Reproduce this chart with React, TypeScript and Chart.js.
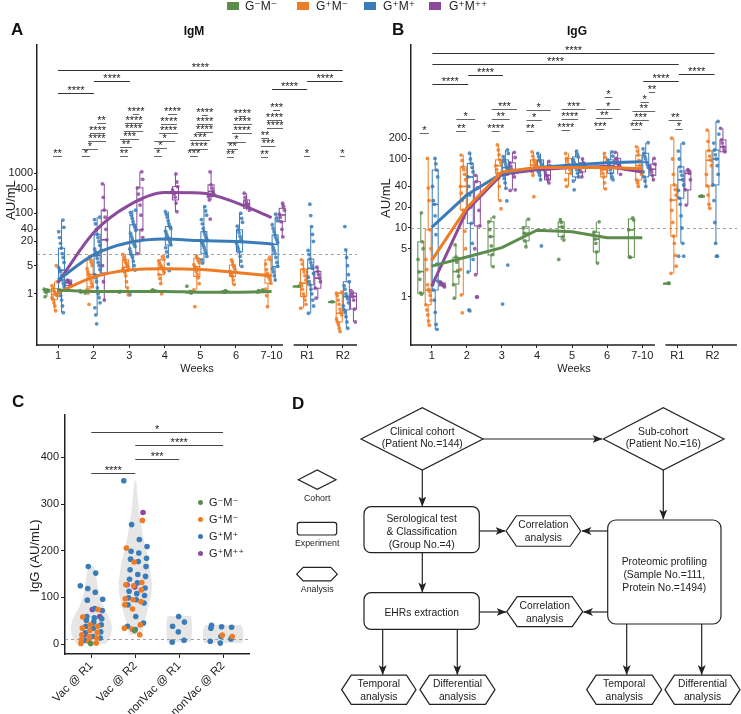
import React, { useEffect, useRef } from 'react';
import { Chart, registerables } from 'chart.js';
Chart.register(...registerables);

const FONT = "'Liberation Sans', Arial, 'DejaVu Sans', sans-serif";
Chart.defaults.font.family = FONT;
Chart.defaults.color = '#222';

// ---------- shared categories ----------
const groupLabels = ['G⁻M⁻', 'G⁺M⁻', 'G⁺M⁺', 'G⁺M⁺⁺'];
const groupColors = ['#5C8D4C', '#EF7B25', '#3A7CB7', '#8B4A9C'];
const timeLabels = ['1', '2', '3', '4', '5', '6', '7-10', 'R1', 'R2'];
const lineWeeks = [1, 2, 3, 4, 5, 6, 7];

// ---------- Panel A: IgM ----------
const igmTicks = [1, 5, 20, 40, 100, 400, 1000];
const igmLineGreen = [1.25, 1.15, 1.15, 1.15, 1.1, 1.1, 1.15];
const igmLineOrange = [1.08, 2.6, 3.9, 4.2, 4.0, 3.4, 2.8];
const igmLineBlue = [2.2, 9.3, 18.8, 23, 21, 20, 17.4];
const igmLinePurple = [1.9, 33, 160, 327, 320, 185, 78];

// box stats per group: [lower whisker, q1, median, q3, upper whisker]
const igmBoxGreen = [[0.85, 1.1, 1.2, 1.3, 1.3], [1.05, 1.08, 1.12, 1.2, 1.2], [1.1, 1.1, 1.12, 1.15, 1.15], [1.15, 1.15, 1.2, 1.25, 1.25], [1.0, 1.05, 1.1, 1.15, 1.15], [1.1, 1.1, 1.15, 1.2, 1.2], [1.1, 1.15, 1.18, 1.2, 1.25], [1.55, 1.55, 1.55, 1.55, 1.55], [0.64, 0.64, 0.64, 0.64, 0.64]];
const igmBoxOrange = [[0.38, 0.72, 0.95, 1.35, 2.0], [1.05, 1.5, 3.0, 7.0, 9.3], [1.4, 3.6, 4.6, 7.0, 9.8], [1.8, 3.0, 4.5, 7.0, 9.0], [1.26, 2.7, 4.7, 7.7, 9.0], [1.7, 2.7, 3.5, 5.2, 7.0], [0.48, 1.84, 2.7, 7.0, 8.2], [0.44, 0.86, 1.84, 4.1, 7.0], [0.116, 0.2, 0.33, 1.04, 1.1]];
const igmBoxBlue = [[0.34, 1.26, 3.9, 13.6, 68], [0.3, 3.0, 9.0, 30, 80], [3.9, 9.3, 20, 52, 120], [8.4, 16.4, 24, 47, 110], [5.8, 10.2, 20, 35, 147], [4.8, 11, 20, 39, 100], [2.2, 4.8, 17, 29, 77], [0.33, 1.67, 4.3, 7.3, 47], [0.14, 0.4, 0.86, 2.0, 12.3]];
const igmBoxPurple = [[1.6, 1.6, 1.9, 2.2, 2.2], [0.7, 3.3, 22, 120, 540], [10, 39, 215, 430, 1070], [110, 215, 330, 460, 950], [215, 260, 350, 510, 1070], [120, 133, 170, 215, 315], [26, 62, 91, 133, 178], [0.78, 1.38, 2.45, 3.6, 4.6], [0.2, 0.42, 0.86, 1.04, 1.2]];

const igmPtsGreen = [[1.2, 1.25, 1.1, 0.85, 1.3], [1.1, 1.2, 1.05], [1.15, 1.1], [1.2, 1.25, 1.15], [1.55, 1.1, 1.05, 1.15], [1.15, 1.2, 1.1], [1.15, 1.2, 1.1, 1.25, 1.2], [1.55], [0.64]];
const igmPtsOrange = [
  [0.38, 0.5, 0.6, 0.72, 0.8, 0.9, 0.95, 1.0, 1.1, 1.2, 1.35, 1.6, 2.0, 5.0],
  [0.55, 1.05, 1.3, 1.5, 1.8, 2.2, 2.6, 3.0, 3.5, 4.2, 5.0, 6.0, 7.0, 8.5],
  [0.95, 1.4, 2.0, 2.8, 3.4, 3.8, 4.2, 4.6, 5.0, 5.6, 6.2, 7.0, 8.0, 9.5],
  [1.0, 1.8, 2.4, 3.0, 3.4, 3.9, 4.3, 4.7, 5.2, 5.8, 6.5, 7.2, 8.5],
  [0.48, 1.26, 1.8, 2.5, 3.0, 3.6, 4.2, 4.7, 5.3, 6.0, 6.8, 7.7, 8.8],
  [1.7, 2.2, 2.7, 3.0, 3.3, 3.6, 4.0, 4.6, 5.2, 6.2, 7.0],
  [0.48, 0.9, 1.3, 1.84, 2.2, 2.5, 2.8, 3.2, 4.0, 5.5, 7.0, 8.2],
  [0.44, 0.55, 0.7, 0.86, 1.0, 1.3, 1.6, 1.84, 2.2, 2.8, 3.5, 4.1, 5.5, 7.0],
  [0.116, 0.14, 0.17, 0.2, 0.24, 0.3, 0.35, 0.42, 0.55, 0.7, 0.9, 1.04, 1.1],
];
const igmPtsBlue = [
  [0.34, 0.5, 0.7, 0.9, 1.1, 1.26, 1.5, 1.8, 2.2, 2.8, 3.5, 3.9, 4.5, 6, 8, 10, 13.6, 18, 25, 35, 45, 68],
  [0.18, 0.3, 0.45, 0.6, 0.8, 1.0, 1.4, 2.0, 2.5, 3.0, 4.0, 5.0, 6.0, 7.5, 9.0, 11, 13, 16, 20, 25, 30, 40, 55, 70, 80],
  [0.95, 3.9, 5, 6.5, 8, 9.3, 11, 13, 15, 17, 20, 23, 27, 32, 38, 45, 52, 62, 75, 90, 105, 120],
  [3.8, 5.5, 8.4, 11, 14, 16.4, 19, 22, 24, 27, 31, 36, 42, 47, 55, 65, 80, 95, 110],
  [5.8, 7, 8.5, 10.2, 12, 14, 16, 18, 20, 23, 26, 30, 35, 42, 55, 70, 90, 115, 147],
  [4.8, 6.5, 8.5, 11, 13, 15, 18, 20, 23, 27, 33, 39, 48, 60, 75, 100],
  [2.2, 2.8, 3.5, 4.2, 4.8, 6, 8, 10, 12, 14, 17, 19, 22, 25, 29, 35, 42, 52, 65, 77, 95],
  [0.33, 0.5, 0.7, 1.0, 1.3, 1.67, 2.0, 2.6, 3.2, 4.3, 5.0, 6.0, 7.3, 9.5, 12, 20, 30, 47, 88, 168],
  [0.14, 0.2, 0.27, 0.34, 0.4, 0.5, 0.6, 0.75, 0.86, 1.0, 1.3, 1.6, 2.0, 3.0, 5, 8, 12.3, 47],
];
const igmPtsPurple = [
  [1.6, 1.8, 1.9, 2.1, 2.2],
  [0.7, 2.0, 5, 12, 22, 40, 80, 120, 250, 540],
  [10, 25, 39, 90, 160, 215, 300, 430, 700, 1070],
  [110, 180, 250, 300, 330, 380, 460, 600, 950],
  [72, 215, 260, 310, 350, 420, 510, 1070],
  [120, 140, 160, 175, 200, 250, 315],
  [26, 40, 62, 80, 95, 120, 150, 178],
  [0.78, 1.38, 2.0, 2.45, 3.0, 3.6, 4.6],
  [0.2, 0.42, 0.7, 0.86, 1.0, 1.2],
];
// significance brackets: [x from, x to, log10 level, label]
const igmGlobalBrackets: [number, number, number, string][] = [
  [1, 9, 5.56, '****'], [1, 2.01, 5.0, '****'], [2.01, 3.02, 5.29, '****'], [7.01, 8, 5.09, '****'], [8, 9, 5.29, '****'],
];
const igmLocalBrackets: [number, number, number, string][] = [
  [0.86, 1.11, 3.42, '**'],
  [1.67, 1.9, 3.42, '*'], [1.67, 2.12, 3.59, '*'], [1.84, 2.35, 3.8, '****'], [1.9, 2.32, 4.0, '****'], [2.1, 2.35, 4.25, '**'],
  [2.74, 2.97, 3.42, '**'], [2.74, 3.08, 3.64, '**'], [2.74, 3.28, 3.84, '***'], [2.85, 3.39, 4.05, '****'], [2.88, 3.39, 4.25, '****'], [3.1, 3.28, 4.47, '****'],
  [3.7, 3.92, 3.42, '*'], [3.7, 4.06, 3.62, '*'], [3.7, 4.29, 3.8, '*'], [3.84, 4.37, 4.0, '****'], [3.89, 4.34, 4.23, '****'], [4.09, 4.34, 4.46, '****'],
  [4.71, 4.93, 3.42, '***'], [4.71, 5.21, 3.59, '****'], [4.71, 5.27, 3.82, '***'], [4.88, 5.35, 4.02, '****'], [4.9, 5.35, 4.23, '****'], [5.04, 5.21, 4.44, '****'],
  [5.75, 5.94, 3.41, '**'], [5.75, 6.06, 3.59, '**'], [5.75, 6.28, 3.78, '*'], [5.89, 6.45, 3.99, '****'], [5.92, 6.45, 4.21, '****'], [6.08, 6.28, 4.42, '****'],
  [6.7, 6.9, 3.41, '**'], [6.7, 7.11, 3.66, '***'], [6.7, 6.93, 3.86, '**'], [6.87, 7.32, 4.11, '****'], [6.87, 7.29, 4.32, '****'], [7.04, 7.24, 4.57, '***'],
  [7.91, 8.08, 3.42, '*'], [8.92, 9.06, 3.42, '*'],
];

// ---------- Panel B: IgG ----------
const iggTicks = [1, 5, 10, 20, 40, 100, 200];
const iggLineGreen = [2.8, 3.8, 5.2, 9.3, 8.8, 7.2, 7.2];
const iggLineOrange = [3.4, 19.5, 65, 75, 75, 75, 72];
const iggLineBlue = [10.2, 30, 62, 75, 82, 88, 91];
const iggLinePurple = [1.44, 18, 60, 70, 75, 78, 65];

const iggBoxGreen = [[1.1, 1.13, 2.33, 6.3, 16.6], [0.96, 1.54, 2.33, 3.76, 5.7], [2.75, 4.06, 7.5, 12.3, 14.4], [5.35, 6.5, 8.4, 10.4, 13.4], [6.7, 7.5, 10.4, 12.3, 13.2], [3.1, 4.5, 6.9, 8.7, 12.3], [3.76, 3.76, 9.4, 13.5, 14], [1.58, 1.58, 1.58, 1.58, 1.58], [29, 29, 29, 29, 29]];
const iggBoxOrange = [[0.39, 0.77, 1.26, 9.4, 102], [1.07, 18.2, 40, 77, 114], [25, 62, 80, 97, 160], [58, 72, 82, 97, 127], [40, 62, 77, 102, 120], [37, 55, 70, 77, 120], [40, 49.6, 80, 114, 150], [2.2, 7.6, 25.4, 42, 200], [19.3, 40.6, 96, 132, 262]];
const iggBoxBlue = [[0.34, 1.26, 22, 69, 102], [2.3, 11.7, 55, 86, 121], [37.6, 58, 75, 97, 135], [50, 68, 78, 97, 120], [48, 55, 82, 107, 130], [50, 62, 80, 97, 127], [40, 55, 90, 121, 172], [6, 27, 50, 77, 169], [6, 42, 100, 135, 350]];
const iggBoxPurple = [[1.4, 1.45, 1.5, 1.6, 1.65], [2.1, 10.7, 27, 47, 58], [35.7, 62, 70, 88, 125], [45, 50, 58, 69, 92], [55, 65, 75, 88, 100], [60, 77, 85, 102, 125], [50, 58, 71, 84, 102], [21.5, 35.7, 62, 67.5, 70], [127, 127, 150, 189, 278]];

const iggPtsGreen = [[1.1, 1.15, 1.8, 2.3, 3.5, 5, 6.3, 16.6], [0.96, 1.5, 2.0, 2.4, 3.2, 3.8, 5.7], [2.75, 4.1, 5.5, 7.5, 9.5, 12.3, 14.4], [5.35, 6.5, 8.4, 10, 13.4], [3.5, 6.7, 7.5, 10.4, 12, 13.2], [3.1, 4.5, 6, 6.9, 8.7, 12.3], [3.76, 3.8, 9.4, 13, 14], [1.58, 1.58], [29, 29]];
const iggPtsOrange = [
  [0.39, 0.45, 0.55, 0.65, 0.77, 0.9, 1.05, 1.2, 1.3, 1.5, 2.5, 3.5, 5, 9.4, 25, 38, 102],
  [0.59, 1.07, 2.5, 5, 9, 14, 18.2, 25, 32, 40, 50, 60, 70, 77, 95, 114],
  [19, 25, 40, 52, 62, 70, 80, 88, 97, 115, 135, 160],
  [28.4, 58, 65, 72, 78, 82, 90, 97, 110, 127],
  [40, 50, 62, 70, 77, 85, 95, 102, 120],
  [37, 45, 55, 62, 70, 77, 90, 105, 120],
  [40, 45, 49.6, 60, 70, 80, 95, 114, 130, 150],
  [2.2, 2.8, 4, 6, 7.6, 12, 18, 25.4, 30, 36, 42, 60, 100, 200],
  [19.3, 22, 30, 40.6, 60, 80, 96, 110, 132, 180, 262],
];
const iggPtsBlue = [
  [0.34, 0.4, 0.6, 0.9, 1.26, 1.5, 1.7, 3, 8, 15, 22, 25, 40, 55, 69, 85, 102],
  [0.63, 0.65, 2.3, 3.5, 6, 11.7, 20, 30, 40, 55, 65, 75, 86, 100, 121],
  [0.79, 2.9, 24.7, 37.6, 45, 52, 58, 64, 70, 75, 82, 90, 97, 108, 120, 135],
  [5.5, 50, 58, 64, 68, 72, 78, 85, 92, 97, 108, 120],
  [35.7, 48, 55, 62, 70, 76, 82, 90, 98, 107, 118, 130],
  [50, 55, 62, 70, 80, 88, 97, 110, 127],
  [40, 48, 55, 65, 75, 82, 90, 100, 110, 121, 140, 172],
  [3.9, 3.9, 6, 10, 15, 22, 27, 35, 42, 50, 58, 66, 77, 100, 130, 169],
  [3.9, 3.9, 6, 12, 25, 42, 60, 80, 100, 115, 135, 170, 230, 350],
];
const iggPtsPurple = [
  [1.4, 1.45, 1.5, 1.55, 1.6, 1.65],
  [1.0, 1.0, 2.1, 5, 10.7, 18, 27, 38, 47, 58],
  [35, 35.7, 55, 62, 66, 70, 78, 88, 105, 125],
  [45, 50, 54, 58, 63, 69, 80, 92],
  [55, 65, 72, 75, 82, 88, 100],
  [60, 77, 82, 85, 95, 102, 125],
  [50, 58, 65, 71, 78, 84, 102],
  [21.5, 35.7, 50, 62, 67.5, 70],
  [127, 135, 150, 170, 189, 278],
];
const iggGlobalBrackets: [number, number, number, string][] = [
  [1.02, 9.06, 3.53, '****'], [1.02, 8.04, 3.38, '****'], [1.02, 2.04, 3.08, '****'], [2.04, 3.03, 3.22, '****'], [7.03, 8.04, 3.13, '****'], [8.04, 9.06, 3.23, '****'],
];
const iggLocalBrackets: [number, number, number, string][] = [
  [0.66, 0.92, 2.38, '*'],
  [1.7, 1.98, 2.4, '**'], [1.7, 2.24, 2.58, '*'],
  [2.71, 2.94, 2.41, '****'], [2.71, 3.22, 2.58, '**'], [2.71, 3.43, 2.72, '***'],
  [3.7, 3.92, 2.41, '**'], [3.7, 4.14, 2.56, '*'], [3.7, 4.39, 2.71, '*'],
  [4.7, 4.94, 2.42, '****'], [4.7, 5.17, 2.58, '****'], [4.7, 5.39, 2.72, '***'],
  [5.68, 5.92, 2.43, '***'], [5.68, 6.15, 2.59, '**'], [5.68, 6.37, 2.73, '*'], [5.92, 6.15, 2.9, '*'],
  [6.72, 6.95, 2.43, '***'], [6.72, 7.19, 2.57, '***'], [6.72, 7.37, 2.7, '**'], [6.95, 7.19, 2.83, '*'], [7.19, 7.37, 2.97, '**'],
  [7.75, 8.13, 2.57, '**'], [7.94, 8.15, 2.43, '*'],
];

// ---------- Panel C ----------
const cCats = ['Vac @ R1', 'Vac @ R2', 'nonVac @ R1', 'nonVac @ R2'];
const cTicks = [0, 100, 200, 300, 400];
const cGreen = [[1], [29], [], []];
const cOrange = [[74, 58, 41, 38, 34, 29, 25, 20, 16, 13, 9, 6, 2, 1], [265, 206, 176, 132, 127, 125, 116, 97, 95, 91, 84, 75, 41, 34, 32, 20], [], [19, 16]];
const cBlue = [
  [166, 152, 125, 119, 111, 96, 94, 76, 72, 59, 56, 54, 51, 47, 41, 38, 34, 26, 24, 16, 13, 8],
  [350, 256, 224, 209, 199, 195, 184, 182, 177, 166, 159, 149, 145, 139, 131, 120, 113, 108, 104, 99, 95, 88, 84, 59, 45, 38, 31],
  [59, 47, 38, 26, 8, 4],
  [40, 37, 36, 34, 16, 11, 6, 2],
];
const cPurple = [[74, 59, 20], [282, 127, 122], [], []];
// violin outlines: levels and half-widths (in category units)
const violinLevels = [
  [0, 5, 20, 35, 50, 65, 80, 100, 120, 140, 160, 167],
  [20, 30, 45, 65, 88, 110, 131, 160, 188, 230, 280, 320, 350],
  [4, 10, 25, 40, 55, 60],
  [2, 5, 15, 25, 35, 41],
];
const violinWidths = [
  [0.32, 0.38, 0.45, 0.47, 0.44, 0.36, 0.27, 0.2, 0.15, 0.12, 0.08, 0.05],
  [0.13, 0.17, 0.2, 0.26, 0.32, 0.37, 0.38, 0.34, 0.28, 0.18, 0.09, 0.05, 0.02],
  [0.27, 0.28, 0.29, 0.29, 0.28, 0.26],
  [0.42, 0.45, 0.46, 0.46, 0.44, 0.4],
];
const cBrackets: [number, number, number, string][] = [[0, 3, 455, '*'], [1, 3, 427, '****'], [1, 2, 396, '***'], [0, 1, 367, '****']];

// ---------- helpers ----------
const dodge = [-0.31, -0.1, 0.1, 0.3];
const BOX_HALF = 0.085;
const jit = (i: number, amp: number) => ((((i + 1) * 0.6180339887) % 1) - 0.5) * 2 * amp;
function withAlpha(hex: string, a: number) {
  const n = parseInt(hex.slice(1), 16);
  return `rgba(${(n >> 16) & 255},${(n >> 8) & 255},${n & 255},${a})`;
}

function drawBrackets(chart: any, list: [number, number, number, string][], color: string, logY: boolean) {
  const { ctx } = chart;
  const xs = chart.scales.x, ys = chart.scales.y;
  ctx.save();
  ctx.strokeStyle = color;
  ctx.fillStyle = '#222';
  ctx.lineWidth = 1;
  ctx.font = `11px ${FONT}`;
  ctx.textAlign = 'center';
  ctx.textBaseline = 'alphabetic';
  for (const [x1, x2, lv, lab] of list) {
    const y = Math.round(ys.getPixelForValue(logY ? Math.pow(10, lv) : lv)) + 0.5;
    const a = xs.getPixelForValue(x1), b = xs.getPixelForValue(x2);
    ctx.beginPath(); ctx.moveTo(a, y); ctx.lineTo(b, y); ctx.stroke();
    ctx.fillText(lab, (a + b) / 2, y + 0.5);
  }
  ctx.restore();
}

type TimePanel = {
  lines: number[][]; boxes: number[][][]; points: number[][][];
  yMin: number; yMax: number; yTicks: number[]; xMax: number;
  brk: [number, number]; global: [number, number, number, string][]; local: [number, number, number, string][];
  smooth: boolean;
};

function makeTimeChart(canvas: HTMLCanvasElement, p: TimePanel) {
  const datasets: any[] = [];
  p.lines.forEach((vals, c) => datasets.push({
    data: vals.map((v, i) => ({ x: lineWeeks[i], y: v })),
    showLine: true, borderColor: groupColors[c], borderWidth: 3, pointRadius: 0,
    cubicInterpolationMode: p.smooth ? 'monotone' : 'default', order: 0,
  }));
  p.points.forEach((groups, c) => datasets.push({
    data: groups.flatMap((vals, g) => vals.map((v, i) => ({ x: g + 1 + dodge[c] + jit(i * 3 + g + c * 5, 0.085), y: v }))),
    backgroundColor: withAlpha(groupColors[c], 0.85), pointRadius: 1.9, borderWidth: 0, order: 1,
  }));
  const decor = {
    id: 'decor',
    beforeDatasetsDraw(chart: any) {
      const { ctx, chartArea: ca } = chart;
      const xs = chart.scales.x, ys = chart.scales.y;
      ctx.save();
      const yd = Math.round(ys.getPixelForValue(10)) + 0.5;
      ctx.setLineDash([3, 3]); ctx.strokeStyle = '#a0a0a0'; ctx.lineWidth = 1;
      ctx.beginPath(); ctx.moveTo(ca.left, yd); ctx.lineTo(ca.right, yd); ctx.stroke();
      ctx.setLineDash([]);
      p.boxes.forEach((groups, c) => groups.forEach((b, g) => {
        const cx = g + 1 + dodge[c];
        const xl = xs.getPixelForValue(cx - BOX_HALF), xr = xs.getPixelForValue(cx + BOX_HALF), xm = xs.getPixelForValue(cx);
        const [lo, q1, md, q3, hi] = b.map((v) => ys.getPixelForValue(v));
        ctx.strokeStyle = groupColors[c]; ctx.lineWidth = 1;
        ctx.beginPath(); ctx.moveTo(xm, hi); ctx.lineTo(xm, q3); ctx.moveTo(xm, q1); ctx.lineTo(xm, lo); ctx.stroke();
        ctx.strokeRect(xl, q3, xr - xl, Math.max(q1 - q3, 1));
        ctx.lineWidth = 1.6; ctx.beginPath(); ctx.moveTo(xl, md); ctx.lineTo(xr, md); ctx.stroke();
      }));
      ctx.restore();
    },
    afterDatasetsDraw(chart: any) {
      drawBrackets(chart, p.local, '#666', true);
      drawBrackets(chart, p.global, '#333', true);
    },
    afterDraw(chart: any) {
      const { ctx, chartArea: ca } = chart;
      const xs = chart.scales.x;
      ctx.save();
      ctx.strokeStyle = '#222'; ctx.lineWidth = 1.5;
      const y = ca.bottom;
      ctx.beginPath();
      ctx.moveTo(ca.left, y); ctx.lineTo(xs.getPixelForValue(p.brk[0]), y);
      ctx.moveTo(xs.getPixelForValue(p.brk[1]), y); ctx.lineTo(ca.right, y);
      ctx.stroke();
      ctx.restore();
    },
  };
  return new Chart(canvas, {
    type: 'scatter',
    data: { datasets },
    plugins: [decor],
    options: {
      animation: false, responsive: false,
      layout: { padding: { top: 45, left: 0, right: p.xMax > 9.5 ? 0 : 5, bottom: 0 } },
      plugins: { legend: { display: false }, tooltip: { enabled: false } },
      scales: {
        x: {
          type: 'linear', min: 0.41, max: p.xMax,
          afterBuildTicks: (s: any) => { s.ticks = timeLabels.map((_, i) => ({ value: i + 1 })); },
          afterFit: (s: any) => { s.height = 35; },
          ticks: { callback: (v: any) => timeLabels[Math.round(+v) - 1] ?? '', autoSkip: false, maxRotation: 0, font: { size: 11 }, color: '#222', padding: 1 },
          grid: { display: true, drawOnChartArea: false, drawTicks: true, tickLength: 3, color: '#222' },
          border: { display: false },
          title: { display: true, text: 'Weeks', font: { size: 11 }, color: '#222', padding: { top: 0, bottom: 4 } },
        },
        y: {
          type: 'logarithmic', min: p.yMin, max: p.yMax,
          afterBuildTicks: (s: any) => { s.ticks = p.yTicks.map((v) => ({ value: v })); },
          afterFit: (s: any) => { s.width = 37; },
          ticks: { callback: (v: any) => String(v), autoSkip: false, font: { size: 11 }, color: '#222', padding: 1 },
          grid: { display: true, drawOnChartArea: false, drawTicks: true, tickLength: 3, color: '#222' },
          border: { display: true, color: '#222', width: 1.5 },
        },
      },
    } as any,
  });
}

function makeViolinChart(canvas: HTMLCanvasElement) {
  const cats = [cGreen, cOrange, cBlue, cPurple];
  const amps = [0.26, 0.27, 0.2, 0.35];
  const counters = [0, 0, 0, 0];
  const datasets = cats.map((groups, c) => ({
    data: groups.flatMap((vals, g) => vals.map((v) => {
      const k = counters[g]++;
      return { x: g + jit(k * 7 + 3, amps[g]), y: v };
    })),
    backgroundColor: groupColors[c], pointRadius: 2.8, borderWidth: 0,
  }));
  const decor = {
    id: 'cdecor',
    beforeDatasetsDraw(chart: any) {
      const { ctx, chartArea: ca } = chart;
      const xs = chart.scales.x, ys = chart.scales.y;
      ctx.save();
      ctx.fillStyle = '#E6E6E6';
      violinLevels.forEach((lv, g) => {
        const w = violinWidths[g];
        ctx.beginPath();
        lv.forEach((v, i) => {
          const px = xs.getPixelForValue(g + w[i]), py = ys.getPixelForValue(v);
          if (i === 0) ctx.moveTo(px, py); else ctx.lineTo(px, py);
        });
        for (let i = lv.length - 1; i >= 0; i--) ctx.lineTo(xs.getPixelForValue(g - w[i]), ys.getPixelForValue(lv[i]));
        ctx.closePath(); ctx.fill();
      });
      const yd = Math.round(ys.getPixelForValue(10)) + 0.5;
      ctx.setLineDash([3, 3]); ctx.strokeStyle = '#a0a0a0'; ctx.lineWidth = 1;
      ctx.beginPath(); ctx.moveTo(ca.left, yd); ctx.lineTo(ca.right, yd); ctx.stroke();
      ctx.restore();
    },
    afterDatasetsDraw(chart: any) { drawBrackets(chart, cBrackets, '#444', false); },
  };
  return new Chart(canvas, {
    type: 'scatter',
    data: { datasets },
    plugins: [decor],
    options: {
      animation: false, responsive: false,
      layout: { padding: { top: 35, left: 0, right: 2, bottom: 0 } },
      plugins: { legend: { display: false }, tooltip: { enabled: false } },
      scales: {
        x: {
          type: 'linear', min: -0.6, max: 3.59,
          afterBuildTicks: (s: any) => { s.ticks = cCats.map((_, i) => ({ value: i })); },
          afterFit: (s: any) => { s.height = 60; },
          ticks: { callback: (v: any) => cCats[Math.round(+v)] ?? '', autoSkip: false, minRotation: 45, maxRotation: 45, font: { size: 11.5 }, color: '#222', padding: 1 },
          grid: { display: true, drawOnChartArea: false, drawTicks: true, tickLength: 4, color: '#222' },
          border: { display: true, color: '#222', width: 1.5 },
        },
        y: {
          type: 'linear', min: -21.4, max: 491,
          afterBuildTicks: (s: any) => { s.ticks = cTicks.map((v) => ({ value: v })); },
          afterFit: (s: any) => { s.width = 65; },
          ticks: { callback: (v: any) => String(v), autoSkip: false, font: { size: 11 }, color: '#222', padding: 2 },
          grid: { display: true, drawOnChartArea: false, drawTicks: true, tickLength: 4, color: '#222' },
          border: { display: true, color: '#222', width: 1.5 },
        },
      },
    } as any,
  });
}

// ---------- Panel D (flowchart) ----------
const hexPts = (x1: number, x2: number, yc: number, h: number, inset: number) =>
  `${x1},${yc} ${x1 + inset},${yc - h / 2} ${x2 - inset},${yc - h / 2} ${x2},${yc} ${x2 - inset},${yc + h / 2} ${x1 + inset},${yc + h / 2}`;

function Flow() {
  const st = { stroke: '#222', strokeWidth: 1.2, fill: 'none' } as const;
  const arrows: [number, number, number, number][] = [
    [483, 439, 602, 439], [422.3, 470, 422.3, 506], [663.3, 470, 663.3, 519],
    [479.3, 531, 505, 531], [607.7, 531, 582, 531], [422.3, 552.7, 422.3, 592],
    [479.3, 612, 506, 612], [607.7, 612, 583.5, 612],
    [382.7, 629.3, 382.7, 674.5], [457.3, 629.3, 457.3, 674.5], [626.7, 624, 626.7, 674.5], [701.7, 624, 701.7, 674.5],
  ];
  const T = (x: number, y: number, s: string, size = 10.3) => (
    <text x={x} y={y} fontSize={size} textAnchor="middle" dominantBaseline="central" fill="#222" fontFamily={FONT}>{s}</text>
  );
  return (
    <svg width={741} height={714} style={{ position: 'absolute', left: 0, top: 0, pointerEvents: 'none' }}>
      <defs>
        <marker id="ah" markerWidth="10" markerHeight="8" refX="9.5" refY="4" orient="auto" markerUnits="userSpaceOnUse">
          <path d="M0,0 L10,4 L0,8 L2.5,4 Z" fill="#222" />
        </marker>
      </defs>
      <polygon points="361,439 422.3,407.7 483,439 422.3,470" {...st} />
      {T(422.3, 431, 'Clinical cohort')}{T(422.3, 443, '(Patient No.=144)')}
      <polygon points="603.3,439 663.3,407.7 724,439 663.3,470" {...st} />
      {T(663.3, 431, 'Sub-cohort')}{T(663.3, 443, '(Patient No.=16)')}
      <rect x={364} y={506.7} width={115.3} height={46} rx={7} {...st} />
      {T(421.7, 518, 'Serological test')}{T(421.7, 531, '& Classification')}{T(421.7, 544, '(Group No.=4)')}
      <polygon points={hexPts(506, 580.7, 531, 30.5, 10.5)} {...st} />
      {T(543.4, 524.5, 'Correlation')}{T(543.4, 537.5, 'analysis')}
      <rect x={607.7} y={520} width={113.3} height={104} rx={8} {...st} />
      {T(664.3, 561, 'Proteomic profiling')}{T(664.3, 574, '(Sample No.=111,')}{T(664.3, 587, 'Protein No.=1494)')}
      <rect x={364} y={592.7} width={115.3} height={36.6} rx={7} {...st} />
      {T(421.7, 612, 'EHRs extraction')}
      <polygon points={hexPts(506.7, 582.7, 611.7, 30, 10.5)} {...st} />
      {T(544.7, 605.5, 'Correlation')}{T(544.7, 618.5, 'analysis')}
      <polygon points={hexPts(341.7, 416, 689.7, 29.3, 9.5)} {...st} />
      {T(378.8, 683.5, 'Temporal')}{T(378.8, 696.5, 'analysis')}
      <polygon points={hexPts(420, 495, 689.7, 29.3, 9.5)} {...st} />
      {T(457.5, 683.5, 'Differential')}{T(457.5, 696.5, 'analysis')}
      <polygon points={hexPts(586.7, 661.7, 689.7, 29.3, 9.5)} {...st} />
      {T(624.2, 683.5, 'Temporal')}{T(624.2, 696.5, 'analysis')}
      <polygon points={hexPts(665, 740, 689.7, 29.3, 9.5)} {...st} />
      {T(702.5, 683.5, 'Differential')}{T(702.5, 696.5, 'analysis')}
      {arrows.map(([x1, y1, x2, y2], i) => (
        <line key={i} x1={x1} y1={y1} x2={x2} y2={y2} stroke="#222" strokeWidth={1.2} markerEnd="url(#ah)" />
      ))}
      <polygon points="298.3,479.7 317.2,470 336,479.7 317.2,489.3" {...st} />
      {T(317.2, 497.5, 'Cohort', 8.8)}
      <rect x={297.3} y={522.3} width={39.4} height={12.7} rx={2.5} {...st} />
      {T(317.2, 543.3, 'Experiment', 8.8)}
      <polygon points={hexPts(296.7, 337.3, 574.2, 13.5, 6.5)} {...st} />
      {T(317.2, 589, 'Analysis', 8.8)}
    </svg>
  );
}

const abs = (l: number, t: number, extra: any = {}) => ({ position: 'absolute' as const, left: l, top: t, ...extra });
const vTitle = (cx: number, cy: number, size: number) => abs(cx - 60, cy - 8, {
  width: 120, height: 16, lineHeight: '16px', textAlign: 'center', fontSize: size, color: '#222',
  transform: 'rotate(-90deg)', whiteSpace: 'nowrap',
});

export default function App() {
  const aRef = useRef<HTMLCanvasElement>(null);
  const bRef = useRef<HTMLCanvasElement>(null);
  const cRef = useRef<HTMLCanvasElement>(null);
  useEffect(() => {
    const charts = [
      makeTimeChart(aRef.current!, {
        lines: [igmLineGreen, igmLineOrange, igmLineBlue, igmLinePurple],
        boxes: [igmBoxGreen, igmBoxOrange, igmBoxBlue, igmBoxPurple],
        points: [igmPtsGreen, igmPtsOrange, igmPtsBlue, igmPtsPurple],
        yMin: 0.0537, yMax: Math.pow(10, 6.18), yTicks: igmTicks, xMax: 9.4,
        brk: [7.32, 7.62], global: igmGlobalBrackets, local: igmLocalBrackets, smooth: true,
      }),
      makeTimeChart(bRef.current!, {
        lines: [iggLineGreen, iggLineOrange, iggLineBlue, iggLinePurple],
        boxes: [iggBoxGreen, iggBoxOrange, iggBoxBlue, iggBoxPurple],
        points: [iggPtsGreen, iggPtsOrange, iggPtsBlue, iggPtsPurple],
        yMin: 0.2014, yMax: Math.pow(10, 3.652), yTicks: iggTicks, xMax: 9.7,
        brk: [7.36, 7.66], global: iggGlobalBrackets, local: iggLocalBrackets, smooth: false,
      }),
      makeViolinChart(cRef.current!),
    ];
    return () => charts.forEach((c) => c.destroy());
  }, []);
  const legendX = [[227, 245], [297, 316], [364, 383], [429, 449]];
  const letter = { fontSize: 17, fontWeight: 700, lineHeight: '17px', color: '#111' };
  return (
    <div style={{ position: 'absolute', left: 0, top: 0, width: 741, height: 714, background: '#fff', fontFamily: FONT, overflow: 'hidden' }}>
      <canvas ref={aRef} width={362} height={380} style={abs(0, 0, { display: 'block' })} />
      <canvas ref={bRef} width={367} height={380} style={abs(374, 0, { display: 'block' })} />
      <canvas ref={cRef} width={253} height={334} style={abs(0, 380, { display: 'block' })} />
      <Flow />
      {groupLabels.map((g, i) => (
        <React.Fragment key={g}>
          <div style={abs(legendX[i][0], 2, { width: 12, height: 8, background: groupColors[i] })} />
          <div style={abs(legendX[i][1], 0, { fontSize: 12, lineHeight: '13px', color: '#222', whiteSpace: 'nowrap' })}>{g}</div>
        </React.Fragment>
      ))}
      <div style={vTitle(11, 200, 13)}>AU/mL</div>
      <div style={vTitle(386, 198, 13)}>AU/mL</div>
      <div style={vTitle(35, 556, 13)}>IgG (AU/mL)</div>
      <div style={abs(11, 21, letter)}>A</div>
      <div style={abs(392, 21, letter)}>B</div>
      <div style={abs(12, 393, letter)}>C</div>
      <div style={abs(292, 395, letter)}>D</div>
      <div style={abs(194, 24, { fontSize: 12, fontWeight: 700, lineHeight: '14px', transform: 'translateX(-50%)', color: '#111' })}>IgM</div>
      <div style={abs(577, 24, { fontSize: 12, fontWeight: 700, lineHeight: '14px', transform: 'translateX(-50%)', color: '#111' })}>IgG</div>
      {groupLabels.map((g, i) => (
        <React.Fragment key={'c' + g}>
          <div style={abs(197.5, 500 + i * 17, { width: 5, height: 5, borderRadius: 3, background: groupColors[i] })} />
          <div style={abs(209, 496 + i * 17, { fontSize: 11, lineHeight: '13px', color: '#222', whiteSpace: 'nowrap' })}>{g}</div>
        </React.Fragment>
      ))}
    </div>
  );
}
